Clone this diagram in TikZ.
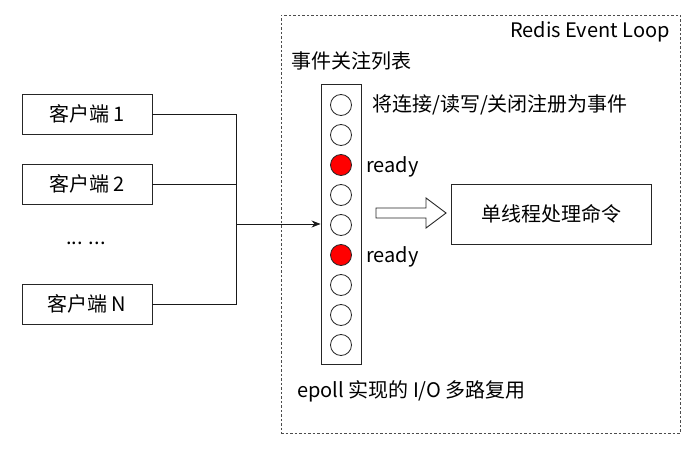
\documentclass[tikz,border=0pt]{standalone}
\usepackage{fontspec}
\setmainfont{Noto Sans CJK SC}
\usetikzlibrary{arrows.meta}
\begin{document}
\begin{tikzpicture}[x=1pt,y=-1pt,
  txt/.style={font=\fontsize{20}{24}\selectfont, inner sep=0pt},
  box/.style={draw=black!85, line width=0.9pt, fill=white, minimum width=130pt, minimum height=40pt, inner sep=0pt, font=\fontsize{20}{24}\selectfont},
  slot/.style={circle, draw=black!85, line width=0.8pt, minimum size=21pt, inner sep=0pt},
  readyslot/.style={slot, fill=red},
  wire/.style={line width=0.9pt, draw=black!90}]
\useasboundingbox (0,0) rectangle (694,449);
% dashed event loop frame
\node[draw=black!70, dashed, dash pattern=on 2.5pt off 2pt, line width=0.9pt, minimum width=399pt, minimum height=418pt, inner sep=0pt] (loop) at (480.5,224) {};
\node[txt, anchor=east] (looplbl) at (670,31.5) {Redis Event Loop};
% clients
\node[box] (c1) at (87,114) {客户端 1};
\node[box] (c2) at (87,184) {客户端 2};
\node[txt] (dots) at (86,243) {... ...};
\node[box] (cn) at (87,304) {客户端 N};
% event list
\node[draw=black!85, line width=0.9pt, minimum width=40pt, minimum height=280pt, inner sep=0pt] (list) at (341,224) {};
\node[txt, anchor=west] (listlbl) at (291,61) {事件关注列表};
\node[slot] (s1) at (341,105) {};
\node[slot] (s2) at (341,135) {};
\node[readyslot] (s3) at (341,165) {};
\node[slot] (s4) at (341,195) {};
\node[slot] (s5) at (341,225) {};
\node[readyslot] (s6) at (341,255) {};
\node[slot] (s7) at (341,285) {};
\node[slot] (s8) at (341,315) {};
\node[slot] (s9) at (341,345) {};
\node[txt, anchor=west] (reg) at (372,105) {将连接/读写/关闭注册为事件};
\node[txt, anchor=west] (r1) at (366,167) {ready};
\node[txt, anchor=west] (r2) at (366,257) {ready};
\node[txt, anchor=west] (epoll) at (297,391) {epoll 实现的 I/O 多路复用};
% command box
\node[box, minimum width=200pt, minimum height=60pt] (cmd) at (551,214) {单线程处理命令};
% hollow arrow
\coordinate (ha) at (376,213);
\draw[line width=0.9pt, draw=black!85, fill=white] (ha) ++(0,-5) -- ++(50,0) -- ++(0,-10) -- ++(20,15) -- ++(-20,15) -- ++(0,-10) -- ++(-50,0) -- cycle;
% connectors
\coordinate (j) at (236,224);
\draw[wire] (c1.east) -| (j);
\draw[wire] (c2.east) -| (j);
\draw[wire] (cn.east) -| (j);
\draw[wire, -{Stealth[length=9pt,width=7pt]}] (j) -- (list.west |- j);
\end{tikzpicture}
\end{document}
